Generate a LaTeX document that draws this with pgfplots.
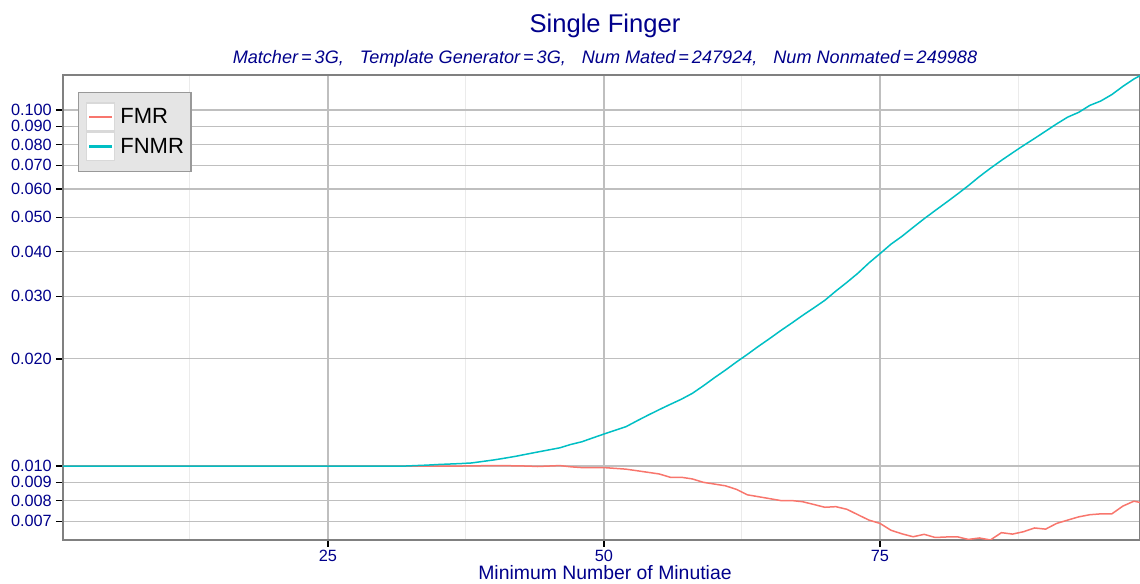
\documentclass[border=0pt]{standalone}
\usepackage{fontspec}
\setmainfont{Liberation Sans}
\usepackage{pgfplots}
\usepackage{pgfplotstable}
\pgfplotsset{compat=1.18}
\definecolor{navy}{HTML}{00008B}
\definecolor{fmrc}{HTML}{F8766D}
\definecolor{fnmrc}{HTML}{00BFC4}
\pgfplotstableread{
x fmr fnmr
1 0.0100 0.0100
2 0.0100 0.0100
3 0.0100 0.0100
4 0.0100 0.0100
5 0.0100 0.0100
6 0.0100 0.0100
7 0.0100 0.0100
8 0.0100 0.0100
9 0.0100 0.0100
10 0.0100 0.0100
11 0.0100 0.0100
12 0.0100 0.0100
13 0.0100 0.0100
14 0.0100 0.0100
15 0.0100 0.0100
16 0.0100 0.0100
17 0.0100 0.0100
18 0.0100 0.0100
19 0.0100 0.0100
20 0.0100 0.0100
21 0.0100 0.0100
22 0.0100 0.0100
23 0.0100 0.0100
24 0.0100 0.0100
25 0.0100 0.0100
26 0.0100 0.0100
27 0.0100 0.0100
28 0.0100 0.0100
29 0.0100 0.0100
30 0.0100 0.0100
31 0.0100 0.0100
32 0.0100 0.0100
33 0.0100 0.01003
34 0.0100 0.01006
35 0.0100 0.0101
36 0.0100 0.01013
37 0.0100 0.01016
38 0.01001 0.0102
39 0.01002 0.0103
40 0.01003 0.0104
41 0.01003 0.01052
42 0.01001 0.01065
43 0.01000 0.0108
44 0.00997 0.01095
45 0.01000 0.0111
46 0.01003 0.01125
47 0.00995 0.0115
48 0.0099 0.0117
49 0.0099 0.0120
50 0.0099 0.0123
51 0.00985 0.0126
52 0.0098 0.0129
53 0.0097 0.0134
54 0.0096 0.0139
55 0.0095 0.0144
56 0.0093 0.0149
57 0.0093 0.0154
58 0.0092 0.0160
59 0.0090 0.0168
60 0.0089 0.0177
61 0.0088 0.0186
62 0.0086 0.0196
63 0.0083 0.0206
64 0.0082 0.0217
65 0.0081 0.0228
66 0.0080 0.0240
67 0.0080 0.0252
68 0.00794 0.0265
69 0.0078 0.0278
70 0.00766 0.0292
71 0.00769 0.0310
72 0.00756 0.0328
73 0.0073 0.0348
74 0.00705 0.0372
75 0.0069 0.0395
76 0.0066 0.0420
77 0.00645 0.0442
78 0.00633 0.0468
79 0.00643 0.0495
80 0.0063 0.0522
81 0.00632 0.0550
82 0.00633 0.0580
83 0.00622 0.0613
84 0.00628 0.0650
85 0.0062 0.0686
86 0.0065 0.0722
87 0.00644 0.0758
88 0.00654 0.0795
89 0.0067 0.0832
90 0.00665 0.0872
91 0.0069 0.0914
92 0.00705 0.0955
93 0.0072 0.0985
94 0.0073 0.1030
95 0.00734 0.1060
96 0.00734 0.1105
97 0.00772 0.1165
98 0.00797 0.1222
99 0.00785 0.1270
}\data
\begin{document}
\begin{tikzpicture}
\begin{axis}[
  scale only axis, width=1077pt, height=465pt,
  ymode=log, xmin=1, xmax=98.55, ymin=0.0062, ymax=0.1254,
  xtick={25,50,75}, xticklabels={25,50,75},
  minor xtick={12.5,37.5,62.5,87.5},
  ytick={0.007,0.008,0.009,0.01,0.02,0.03,0.04,0.05,0.06,0.07,0.08,0.09,0.1},
  yticklabels={0.007,0.008,0.009,0.010,0.020,0.030,0.040,0.050,0.060,0.070,0.080,0.090,0.100},
  yminorticks=false,
  xmajorgrids, ymajorgrids, xminorgrids,
  major grid style={black!25, line width=1.2pt},
  minor grid style={black!8, line width=1pt},
  tick align=outside, major tick length=7pt, minor tick length=0pt,
  xtick pos=bottom, ytick pos=left,
  major tick style={black, line width=1.3pt},
  axis line style={black!50, line width=1.3pt},
  tick label style={font=\fontsize{16.3}{16}\selectfont, text=navy},
  yticklabel style={inner xsep=4pt},
  legend style={at={(0.0142,0.964)}, anchor=north west, fill=black!10, draw=black!40,
    line width=1.2pt, font=\fontsize{22}{26}\selectfont, inner xsep=7pt, inner ysep=10pt,
    row sep=0pt, column sep=5pt, nodes={inner sep=0pt}},
  legend cell align=left,
  legend image code/.code={
    \draw[draw=black!15, fill=white, line width=1.5pt, solid] (0pt,-14pt) rectangle (28pt,14pt);
    \draw[line width=2.2pt] (2.5pt,0pt) -- (25.5pt,0pt);},
]
\addplot[fmrc, line width=1.5pt] table[x=x, y=fmr] {\data};
\addlegendentry{FMR}
\addplot[fnmrc, line width=1.5pt] table[x=x, y=fnmr] {\data};
\addlegendentry{FNMR}
\end{axis}
\node[font=\fontsize{25.6}{30}\selectfont, text=navy, anchor=base] at ([xshift=542pt, yshift=42pt]current axis.north west) {Single Finger};
\node[font=\fontsize{18.1}{20}\selectfont\itshape, text=navy, anchor=base] at ([xshift=542pt, yshift=11pt]current axis.north west)
  {Matcher\hspace{3pt}=\hspace{3pt}3G,\hspace{16pt}Template Generator\hspace{3pt}=\hspace{3pt}3G,\hspace{16pt}Num Mated\hspace{3pt}=\hspace{3pt}247924,\hspace{16pt}Num Nonmated\hspace{3pt}=\hspace{3pt}249988};
\node[font=\fontsize{19.4}{22}\selectfont, text=navy, anchor=base] at ([xshift=542pt, yshift=-39.5pt]current axis.south west) {Minimum Number of Minutiae};
\pgfresetboundingbox
\path[use as bounding box] ([xshift=-63pt, yshift=-44pt]current axis.south west) rectangle ([yshift=75pt]current axis.north east);
\end{tikzpicture}
\end{document}
